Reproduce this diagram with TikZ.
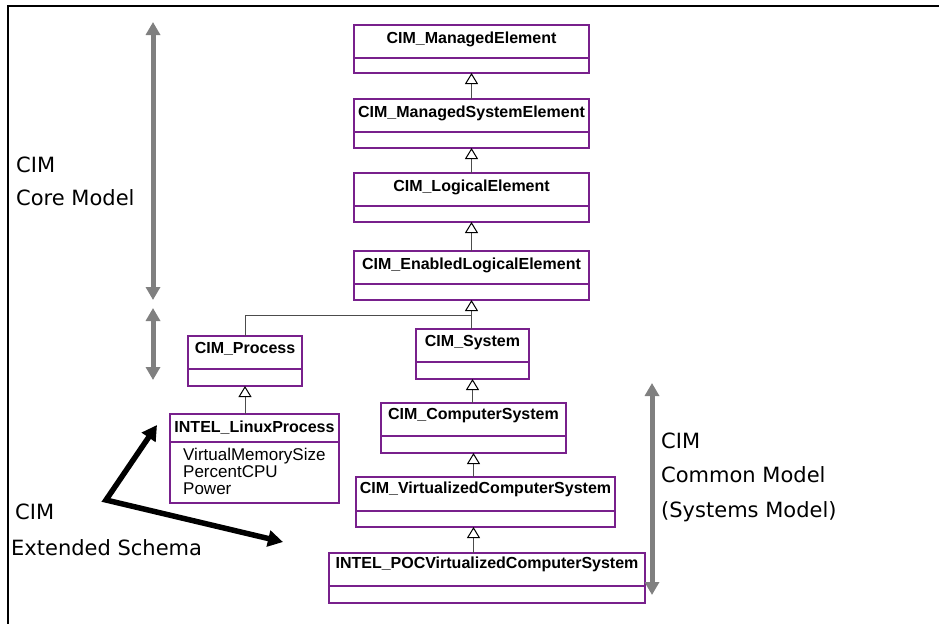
\documentclass[tikz,border=0pt]{standalone}
\usepackage{fontspec}
\setmainfont{Liberation Sans}
\newfontfamily\labfont{DejaVu Sans}
\usetikzlibrary{arrows.meta,fit,calc}
\definecolor{umlpurple}{RGB}{120,32,140}
\definecolor{arrgray}{RGB}{128,128,128}
\tikzset{
  umlbox/.style={draw=umlpurple, line width=1.4pt, inner sep=0pt, outer sep=0pt},
  umldiv/.style={draw=umlpurple, line width=1.4pt},
  umltitle/.style={font=\fontsize{16}{18}\selectfont\bfseries, inner sep=0pt, anchor=base},
  attr/.style={font=\fontsize{17}{19}\selectfont, inner sep=0pt, anchor=base west},
  conn/.style={draw=black!70, line width=0.9pt},
  inh/.style={conn, -{Triangle[open, length=11pt, width=13pt, fill=white, color=black, line width=1pt]}},
  grayarr/.style={draw=arrgray, line width=5pt, {Triangle[length=13pt,width=14pt]}-{Triangle[length=13pt,width=14pt]}},
  blackarr/.style={draw=black, line width=5.5pt, {Triangle[length=15pt,width=16pt]}-{Triangle[length=15pt,width=16pt]}},
  lab/.style={font=\labfont\fontsize{21}{25}\selectfont, inner sep=0pt, anchor=base west},
  frameline/.style={draw=black, line width=1.5pt}
}
% #1 name, #2 x1, #3 y1, #4 x2, #5 y2, #6 y of divider, #7 title baseline offset, #8 title
\newcommand\umlclass[8]{%
  \node[umlbox, fit={(#2,#3) (#4,#5)}] (#1) {};
  \draw[umldiv] (#2,#6) -- (#4,#6);
  \node[umltitle] (#1-t) at ([yshift=-#7pt]#1.north) {#8};
}
\begin{document}
\begin{tikzpicture}[x=1pt, y=-1pt]
\useasboundingbox (0,0) rectangle (939,624);
% frame
\coordinate (fTL) at (8,6);
\coordinate (fTR) at (939,6);
\coordinate (fBL) at (8,624);
\draw[frameline] (fTR) -- (fTL) -- (fBL);

% classes
\umlclass{me}{354}{25}{589}{73}{58}{18}{CIM\_ManagedElement}
\umlclass{mse}{354}{99}{589}{148}{132}{18}{CIM\_ManagedSystemElement}
\umlclass{le}{354}{173}{589}{222}{206}{18}{CIM\_LogicalElement}
\umlclass{ele}{354}{251}{589}{300}{284}{18}{CIM\_EnabledLogicalElement}
\umlclass{sys}{416}{329}{529}{379}{362}{17}{CIM\_System}
\umlclass{proc}{188}{336}{302}{386}{369}{17.5}{CIM\_Process}
\umlclass{cs}{381}{403}{566}{453}{436}{16.5}{CIM\_ComputerSystem}
\umlclass{lp}{170}{414}{339}{503}{442}{18.5}{INTEL\_LinuxProcess}
\umlclass{vcs}{356}{477}{615}{527}{511}{16.5}{CIM\_VirtualizedComputerSystem}
\umlclass{poc}{329}{553}{645}{603}{586}{15.5}{INTEL\_POCVirtualizedComputerSystem}

% attributes
\node[attr] (lp-a1) at (183,460) {VirtualMemorySize};
\node[attr] (lp-a2) at (183,477) {PercentCPU};
\node[attr] (lp-a3) at (183,494.5) {Power};

% inheritance connectors
\draw[inh] (mse.north) -- (me.south);
\draw[inh] (le.north) -- (mse.south);
\draw[inh] (ele.north) -- (le.south);
\coordinate (jy) at (0,315);
\coordinate (join) at (ele.south |- jy);
\draw[inh] (sys.north -| ele.south) -- (ele.south);
\draw[conn] (proc.north) |- (join);
\draw[inh] (lp.north -| proc.south) -- (proc.south);
\draw[inh] (cs.north -| sys.south) -- (sys.south);
\draw[inh] (vcs.north -| cs.south) -- (cs.south);
\draw[inh] (poc.north -| cs.south) -- (vcs.south -| cs.south);

% gray range arrows
\coordinate (coreTop) at (153,22);
\coordinate (coreBot) at (153,300);
\coordinate (midTop) at (153,308);
\coordinate (midBot) at (153,380);
\coordinate (comTop) at (652,383);
\coordinate (comBot) at (652,595);
\draw[grayarr] (coreTop) -- (coreBot);
\draw[grayarr] (midTop) -- (midBot);
\draw[grayarr] (comTop) -- (comBot);

% black arrows
\coordinate (exA) at (157,425);
\coordinate (exV) at (106,500);
\coordinate (exB) at (283,542);
\draw[blackarr] (exA) -- (exV) -- (exB);

% labels
\node[lab] (core1) at (16,172) {CIM};
\node[lab] (core2) at (16,205) {Core Model};
\node[lab] (ext1) at (15,519) {CIM};
\node[lab] (ext2) at (11,555) {Extended Schema};
\node[lab] (com1) at (661,448) {CIM};
\node[lab] (com2) at (661,482) {Common Model};
\node[lab] (com3) at (661,517) {(Systems Model)};
\end{tikzpicture}
\end{document}
